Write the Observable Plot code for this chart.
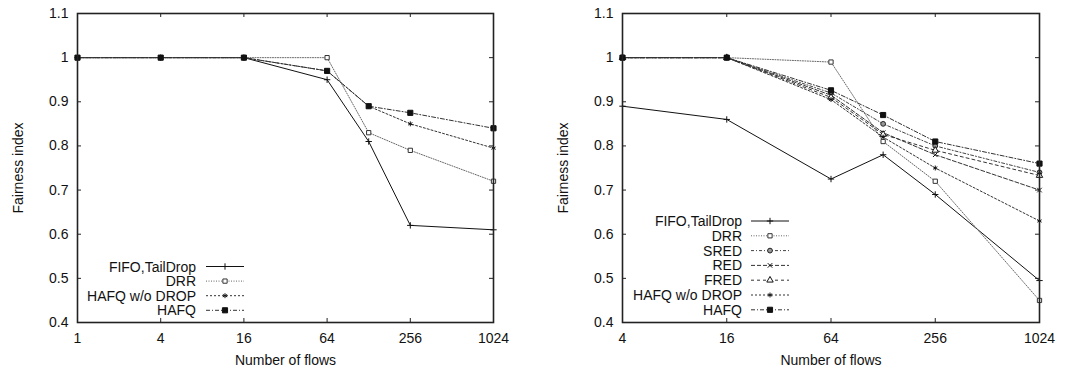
<!DOCTYPE html>
<html>
<head>
<meta charset="utf-8">
<script src="https://cdn.jsdelivr.net/npm/d3@7"></script>
<script src="https://cdn.jsdelivr.net/npm/@observablehq/plot@0.6"></script>
<style>
  html, body { margin: 0; padding: 0; background: #fff; }
  #wrap { position: relative; width: 1081px; height: 375px; overflow: hidden; }
  .panel { position: absolute; top: 0; }
  svg { font-family: "Liberation Sans", Arial, sans-serif; }
</style>
</head>
<body>
<div id="wrap">
  <div id="left" class="panel" style="left:0px"></div>
  <div id="right" class="panel" style="left:540px"></div>
</div>
<script>
// ---------------- data ----------------
const yTicks = [0.4, 0.5, 0.6, 0.7, 0.8, 0.9, 1, 1.1];

const leftFlows = [1, 4, 16, 64, 128, 256, 1024];
const leftTicks = [1, 4, 16, 64, 256, 1024];
const leftFIFO = [1, 1, 1, 0.95, 0.81, 0.62, 0.61];
const leftDRR = [1, 1, 1, 1, 0.83, 0.79, 0.72];
const leftHAFQnoDrop = [1, 1, 1, 0.97, 0.89, 0.85, 0.795];
const leftHAFQ = [1, 1, 1, 0.97, 0.89, 0.875, 0.84];

const rightFlows = [4, 16, 64, 128, 256, 1024];
const rightTicks = [4, 16, 64, 256, 1024];
const rightFIFO = [0.89, 0.86, 0.725, 0.78, 0.69, 0.495];
const rightDRR = [1, 1, 0.99, 0.81, 0.72, 0.45];
const rightSRED = [1, 1, 0.92, 0.85, 0.80, 0.74];
const rightRED = [1, 1, 0.915, 0.83, 0.78, 0.70];
const rightFRED = [1, 1, 0.91, 0.826, 0.79, 0.733];
const rightHAFQnoDrop = [1, 1, 0.905, 0.82, 0.75, 0.63];
const rightHAFQ = [1, 1, 0.926, 0.87, 0.81, 0.76];

// ---------------- styles ----------------
const styles = {
  "FIFO,TailDrop": {stroke: "#111", mark: "#111", dash: null, symbol: "plus", r: 2.2, fill: "none"},
  "DRR": {stroke: "#666", mark: "#333", dash: "1,1.5", symbol: "square", r: 2.4, fill: "#fff"},
  "SRED": {stroke: "#444", mark: "#222", dash: "3,2,1,2", symbol: "circle", r: 2.4, fill: "#999"},
  "RED": {stroke: "#333", mark: "#111", dash: "4,2", symbol: "times", r: 2.2, fill: "none"},
  "FRED": {stroke: "#333", mark: "#111", dash: "3,3", symbol: "triangle", r: 2.4, fill: "#fff"},
  "HAFQ w/o DROP": {stroke: "#333", mark: "#111", dash: "2,2", symbol: "asterisk", r: 2.3, fill: "none"},
  "HAFQ": {stroke: "#333", mark: "#111", dash: "4,2,1,2", symbol: "square", r: 2.9, fill: "#111"}
};

const d3sym = {
  plus: d3.symbolPlus, square: d3.symbolSquare, circle: d3.symbolCircle,
  times: d3.symbolTimes, triangle: d3.symbolTriangle, asterisk: d3.symbolAsterisk
};

function panel(el, opts) {
  const {width, ml, mr, mt, mb, flows, ticks, series, legend} = opts;
  const height = 375;
  const innerW = width - ml - mr, innerH = height - mt - mb;
  const marks = [];
  for (const [name, vals] of series) {
    const st = styles[name];
    const data = flows.map((f, i) => ({f, v: vals[i]}));
    marks.push(Plot.line(data, {x: "f", y: "v", stroke: st.stroke, strokeWidth: 1,
      strokeDasharray: st.dash || undefined}));
    marks.push(Plot.dot(data, {x: "f", y: "v", symbol: st.symbol, r: st.r,
      stroke: st.mark, strokeWidth: 1, fill: st.fill}));
  }
  const plot = Plot.plot({
    width, height,
    marginLeft: ml, marginRight: mr, marginTop: mt, marginBottom: mb,
    style: {fontSize: "14px", fontFamily: "'Liberation Sans', Arial, sans-serif", color: "#111", background: "#fff"},
    x: {type: "log", base: 2, domain: [flows[0], 1024]},
    y: {domain: [0.4, 1.1]},
    marks: [
      Plot.axisX(ticks, {tickSize: 0, tickPadding: 11, tickFormat: d => String(d),
        label: "Number of flows", labelAnchor: "center", labelArrow: "none", labelOffset: 42, fontSize: 14}),
      Plot.axisY(yTicks, {tickSize: 0, tickPadding: 9, tickFormat: d => String(d),
        label: "Fairness index", labelAnchor: "center", labelArrow: "none", labelOffset: 64, fontSize: 14}),
      Plot.tickX(ticks, {x: d => d, insetTop: innerH - 4, stroke: "#222"}),
      Plot.tickX(ticks, {x: d => d, insetBottom: innerH - 4, stroke: "#222"}),
      Plot.tickY(yTicks, {y: d => d, insetRight: innerW - 4, stroke: "#222"}),
      Plot.tickY(yTicks, {y: d => d, insetLeft: innerW - 4, stroke: "#222"}),
      ...marks,
      Plot.frame({stroke: "#222", strokeWidth: 1.6})
    ]
  });
  el.appendChild(plot);

  // legend inside plot area (lower left)
  const svg = d3.select(plot);
  const g = svg.append("g");
  legend.rows.forEach((name, i) => {
    const st = styles[name];
    const y = legend.y0 + i * legend.dy;
    g.append("text").attr("x", legend.textEnd).attr("y", y).attr("dy", "0.36em")
      .attr("text-anchor", "end").attr("font-size", 14).attr("fill", "#111").text(name);
    const ln = g.append("line").attr("x1", legend.x1).attr("x2", legend.x2)
      .attr("y1", y).attr("y2", y).attr("stroke", st.stroke).attr("stroke-width", 1);
    if (st.dash) ln.attr("stroke-dasharray", st.dash);
    const area = Math.PI * st.r * st.r;
    g.append("path").attr("transform", `translate(${(legend.x1 + legend.x2) / 2},${y})`)
      .attr("d", d3.symbol(d3sym[st.symbol], area)())
      .attr("fill", st.fill).attr("stroke", st.mark).attr("stroke-width", 1);
  });
}

panel(document.getElementById("left"), {
  width: 540, ml: 77, mr: 47, mt: 13, mb: 53,
  flows: leftFlows, ticks: leftTicks,
  series: [["FIFO,TailDrop", leftFIFO], ["DRR", leftDRR], ["HAFQ w/o DROP", leftHAFQnoDrop], ["HAFQ", leftHAFQ]],
  legend: {rows: ["FIFO,TailDrop", "DRR", "HAFQ w/o DROP", "HAFQ"], y0: 266.5, dy: 14.6, textEnd: 196, x1: 206, x2: 244}
});

panel(document.getElementById("right"), {
  width: 541, ml: 82, mr: 42, mt: 13, mb: 53,
  flows: rightFlows, ticks: rightTicks,
  series: [["FIFO,TailDrop", rightFIFO], ["DRR", rightDRR], ["SRED", rightSRED], ["RED", rightRED],
           ["FRED", rightFRED], ["HAFQ w/o DROP", rightHAFQnoDrop], ["HAFQ", rightHAFQ]],
  legend: {rows: ["FIFO,TailDrop", "DRR", "SRED", "RED", "FRED", "HAFQ w/o DROP", "HAFQ"],
           y0: 221, dy: 14.8, textEnd: 202, x1: 211, x2: 249}
});
</script>
</body>
</html>
